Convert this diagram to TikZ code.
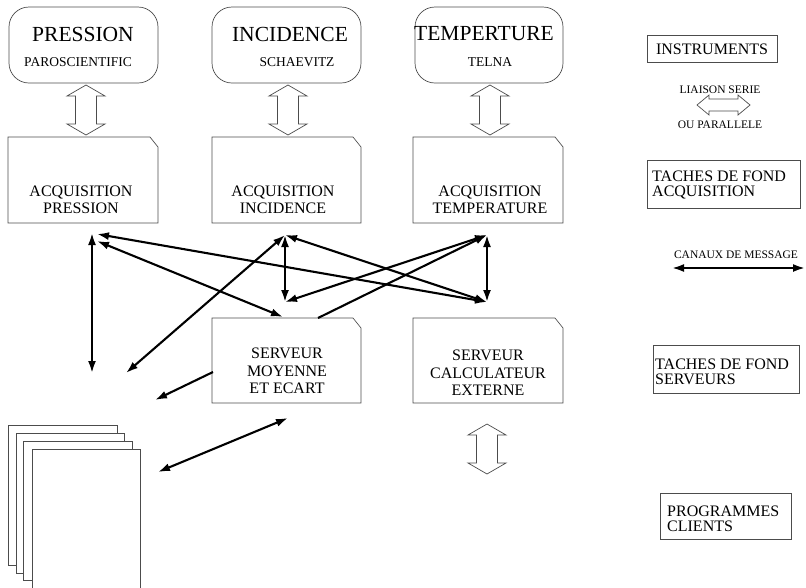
\documentclass[tikz,border=0pt]{standalone}
\usepackage{fontspec}
\setmainfont{Liberation Serif}
\usetikzlibrary{arrows.meta}
\newcommand\cutbox[4]{\draw[box] (#1,#2) -- ({#3-8},#2) -- (#3,{#2+10}) -- (#3,#4) -- (#1,#4) -- cycle;}
\tikzset{
  box/.style={draw=black!70, line width=0.7pt},
  link/.style={line width=2.1pt, {Latex[length=12pt,width=8pt]}-{Latex[length=12pt,width=8pt]}},
  linkone/.style={line width=2.1pt, -{Latex[length=12pt,width=8pt]}},
  hollow/.style={draw=black!70, line width=0.7pt, fill=white},
  big/.style={font=\fontsize{21.5}{24}\selectfont, inner sep=0pt},
  sub/.style={font=\fontsize{13.5}{15}\selectfont, inner sep=0pt},
  lbl/.style={font=\fontsize{16}{17.5}\selectfont, align=center, inner sep=0pt},
  leg/.style={font=\fontsize{16}{15.5}\selectfont, align=left, inner sep=0pt, anchor=west},
  small/.style={font=\fontsize{11.5}{12}\selectfont, inner sep=0pt},
  vdarrow/.pic={\path[hollow] (0,0) -- (19,11) -- (10.5,11) -- (10.5,39) -- (19,39) -- (0,50) -- (-19,39) -- (-10.5,39) -- (-10.5,11) -- (-19,11) -- cycle;},
  hdarrow/.pic={\path[hollow] (0,0) -- (12,-10) -- (12,-6) -- (41,-6) -- (41,-10) -- (53,0) -- (41,10) -- (41,6) -- (12,6) -- (12,10) -- cycle;}
}
\begin{document}
\begin{tikzpicture}[x=1pt,y=-1pt]
\useasboundingbox (0,0) rectangle (806,587);

% instrument boxes
\draw[box, rounded corners=20pt] (9,7) rectangle (158,83);
\draw[box, rounded corners=20pt] (212,7) rectangle (361,83);
\draw[box, rounded corners=20pt] (415,7) rectangle (563,83);
\node[big] (tP) at (83,34) {PRESSION};
\node[sub] (sP) at (78,62) {PAROSCIENTIFIC};
\node[big] (tI) at (290,34) {INCIDENCE};
\node[sub] (sI) at (297,62) {SCHAEVITZ};
\node[big] (tT) at (484,34) {TEMPERTURE};
\node[sub] (sT) at (490,62) {TELNA};

% hollow links
\pic at (86,85) {vdarrow};
\pic at (288,85) {vdarrow};
\pic at (490,85) {vdarrow};
\pic at (487,424) {vdarrow};

% acquisition boxes
\cutbox{8}{137}{158}{223}
\cutbox{212}{137}{361}{223}
\cutbox{413}{137}{563}{223}
\node[lbl] (aP) at (81,200) {ACQUISITION\\PRESSION};
\node[lbl] (aI) at (283,200) {ACQUISITION\\INCIDENCE};
\node[lbl] (aT) at (490,200) {ACQUISITION\\TEMPERATURE};

% server boxes
\cutbox{212}{318}{361}{403}
\cutbox{413}{318}{563}{403}
\node[lbl] (sM) at (287,371) {SERVEUR\\MOYENNE\\ET ECART};
\node[lbl] (sC) at (488,373) {SERVEUR\\CALCULATEUR\\EXTERNE};

% pages (client programs)
\draw[box, fill=white] (8,425) rectangle (117,565);
\draw[box, fill=white] (16,433) rectangle (124,573);
\draw[box, fill=white] (23,441) rectangle (132,580);
\path[fill=white] (32,449) rectangle (140,588);
\draw[box] (32,588) -- (32,449) -- (140,449) -- (140,588);

% hubs
\coordinate (Pa) at (92,233);
\coordinate (Pb) at (97,234);
\coordinate (Pc) at (97,241);
\coordinate (Pd) at (92,373);
\coordinate (Iu) at (285,235);
\coordinate (Il) at (285,302);
\coordinate (Tu) at (487,235);
\coordinate (Tl) at (487,302);
\coordinate (Sa) at (283,317);
\coordinate (Sb) at (318,318);
\coordinate (Sl) at (213,372);
\coordinate (Ia) at (126,373);
\coordinate (Ma) at (155,400);
\coordinate (Ca) at (158,472);
\coordinate (Cb) at (288,418);

% message channels
\draw[link] (Pa) -- (Pd);
\draw[link] (Pb) -- (Tl);
\draw[link] (Pc) -- (Sa);
\draw[link] (Iu) -- (Il);
\draw[link] (Iu) -- (Ia);
\draw[link] (Iu) -- (Tl);
\draw[link] (Il) -- (Tu);
\draw[linkone] (Sb) -- (Tu);
\draw[link] (Tu) -- (Tl);
\draw[linkone] (Sl) -- (Ma);
\draw[link] (Ca) -- (Cb);

% legend
\draw[box] (647,35) rectangle (777,62);
\node[font=\fontsize{16}{17}\selectfont, inner sep=0pt] (lI) at (712,49) {INSTRUMENTS};
\node[small] (lS1) at (720,90) {LIAISON SERIE};
\pic at (697,105) {hdarrow};
\node[small] (lS2) at (720,125) {OU PARALLELE};
\draw[box] (647,160) rectangle (800,208);
\node[leg] (lA) at (652,185) {TACHES DE FOND\\ACQUISITION};
\node[small] (lC) at (736,255) {CANAUX DE MESSAGE};
\coordinate (Ls) at (672,268);
\coordinate (Le) at (805,268);
\draw[link] (Ls) -- (Le);
\draw[box] (653,345) rectangle (799,393);
\node[leg] (lSv) at (655,372) {TACHES DE FOND\\SERVEURS};
\draw[box] (660,493) rectangle (791,539);
\node[leg] (lP) at (667,519) {PROGRAMMES\\CLIENTS};
\end{tikzpicture}
\end{document}
